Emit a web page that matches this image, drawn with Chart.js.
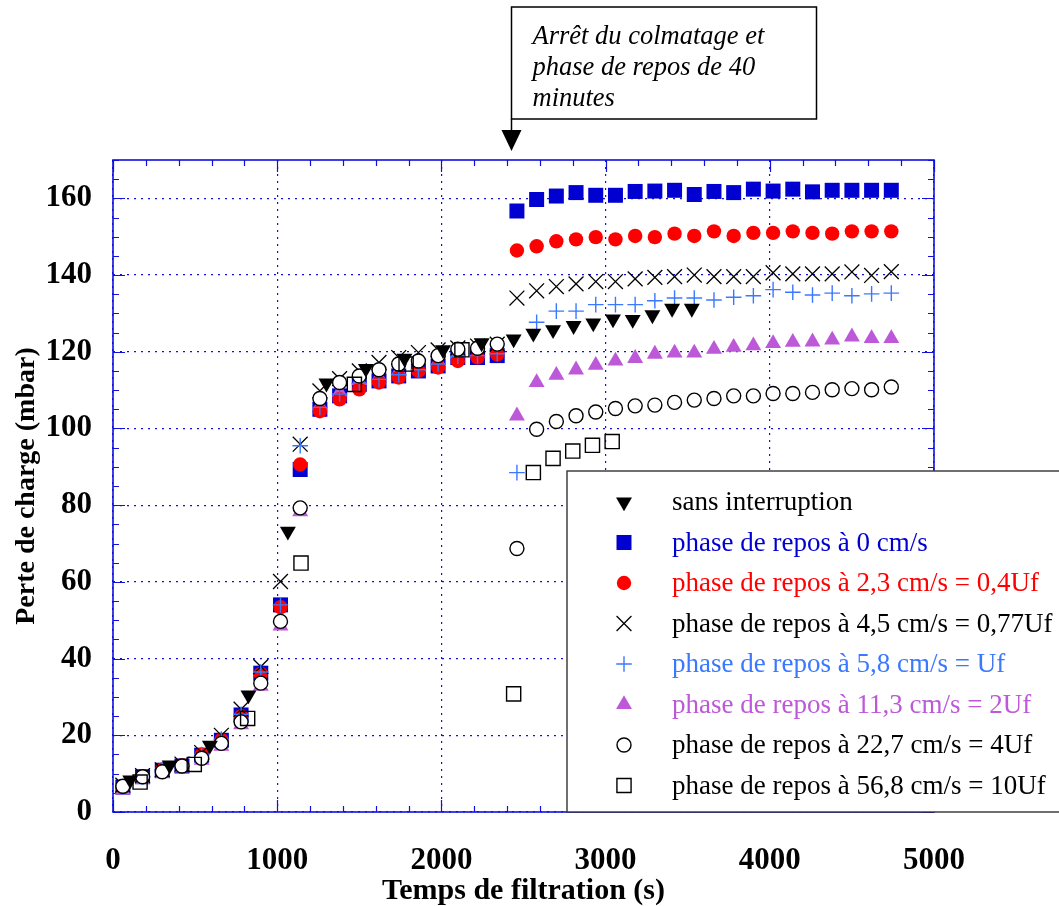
<!DOCTYPE html>
<html>
<head>
<title>Perte de charge</title>
<script src="https://cdn.jsdelivr.net/npm/chart.js"></script>
<style>
  html, body { margin: 0; padding: 0; background: #fff; }
</style>
</head>
<body>
<canvas id="chart" width="1059" height="906"></canvas>
<script>
// temps de filtration communs (s)
const tMain = [60, 180, 300, 420, 540, 660, 780, 900, 1020, 1140, 1260, 1380, 1500, 1620, 1740, 1860, 1980, 2100, 2220, 2340,
               2460, 2580, 2700, 2820, 2940, 3060, 3180, 3300, 3420, 3540, 3660, 3780, 3900, 4020, 4140, 4260, 4380, 4500, 4620, 4740];

// sans interruption (temps propres)
const tSans = [105, 345, 590, 825, 1065, 1300, 1540, 1775, 2010, 2245, 2440, 2560, 2680, 2805, 2925, 3045, 3165, 3285, 3405, 3525];
const pSans = [8.3, 12.2, 17.4, 30.5, 73.2, 111.8, 115.6, 118.3, 120.5, 122.3, 123.3, 124.8, 125.7, 126.8, 127.5, 128.5, 128.4, 129.6, 131.3, 131.3];

const p0cms = [6.5, 9.2, 10.9, 12.0, 14.8, 18.7, 25.3, 36.2, 54.0, 89.3, 105.0, 108.5, 111.5, 112.4, 113.7, 115.0, 116.3, 118.5, 118.5, 119.0,
               156.7, 159.7, 160.6, 161.5, 160.8, 160.8, 161.8, 161.9, 162.1, 161.0, 161.8, 161.5, 162.4, 161.9, 162.4, 161.7, 162.1, 162.1, 162.1, 162.1];
const p23cms = [6.5, 9.3, 11.0, 12.2, 15.0, 18.8, 25.0, 36.0, 53.4, 90.6, 104.5, 107.6, 110.2, 112.0, 113.3, 115.0, 115.9, 117.6, 118.5, 119.3,
                146.4, 147.5, 148.8, 149.3, 149.9, 149.3, 150.2, 149.9, 150.8, 150.2, 151.4, 150.2, 151.0, 151.0, 151.4, 151.0, 150.8, 151.4, 151.4, 151.4];
const p45cms = [7.0, 9.5, 11.0, 12.5, 15.5, 20.0, 26.8, 37.9, 60.1, 95.9, 109.8, 113.0, 115.0, 117.2, 118.5, 119.8, 120.5, 121.0, 121.5, 122.0,
                134.0, 135.9, 137.0, 137.7, 138.3, 138.3, 139.0, 139.4, 139.6, 140.0, 139.6, 139.6, 139.6, 140.6, 140.3, 140.3, 140.3, 140.8, 139.9, 140.9];
const p58cms = [6.5, 9.2, 11.0, 12.0, 15.0, 19.0, 25.5, 36.5, 54.0, 95.5, 105.5, 109.0, 111.8, 112.8, 114.0, 115.3, 116.8, 118.8, 119.0, 119.5,
                88.5, 127.7, 130.6, 130.6, 132.3, 132.3, 132.3, 133.3, 134.0, 134.0, 133.5, 134.2, 134.6, 136.2, 135.5, 134.8, 135.3, 134.6, 135.1, 135.3];
const p113cms = [5.8, 8.5, 10.0, 11.5, 13.5, 17.2, 22.8, 32.8, 48.5, 78.3, 106.0, 109.5, 112.5, 113.5, 115.0, 116.0, 117.5, 119.5, 119.5, 120.5,
                 103.3, 112.0, 113.9, 115.3, 116.5, 117.6, 118.3, 119.4, 119.7, 119.7, 120.7, 121.2, 121.6, 122.2, 122.5, 122.6, 123.1, 123.9, 123.5, 123.5];
const p227cms = [6.7, 9.2, 10.5, 12.0, 14.0, 17.9, 23.5, 33.6, 49.7, 79.3, 107.8, 112.0, 113.7, 115.3, 116.8, 117.6, 119.0, 120.7, 120.9, 122.0,
                 68.7, 99.8, 101.8, 103.3, 104.3, 105.2, 105.9, 106.1, 106.8, 107.4, 107.8, 108.5, 108.5, 109.1, 109.1, 109.4, 110.1, 110.4, 110.1, 110.8];

// 56,8 cm/s (temps propres)
const tCarre = [165, 495, 820, 1145, 1470, 1785, 2125, 2440, 2560, 2680, 2800, 2920, 3040];
const p568cms = [7.8, 12.4, 24.4, 64.9, 111.5, 116.8, 120.5, 30.8, 88.5, 92.2, 94.1, 95.6, 96.6];

const labels = [
  'sans interruption',
  'phase de repos à 0 cm/s',
  'phase de repos à 2,3 cm/s = 0,4Uf',
  'phase de repos à 4,5 cm/s = 0,77Uf',
  'phase de repos à 5,8 cm/s = Uf',
  'phase de repos à 11,3 cm/s = 2Uf',
  'phase de repos à 22,7 cm/s = 4Uf',
  'phase de repos à 56,8 cm/s = 10Uf'
];
const annotationLines = ['Arrêt du colmatage et', 'phase de repos de 40', 'minutes'];
const tArret = 2425;

const SERIF = "'Liberation Serif', 'Times New Roman', serif";
const BLUE = '#0000d0', RED = '#ff0000', LBLUE = '#3a78ff', PURPLE = '#bd58d8', AXIS = '#1010e0';

const pts = (xs, ys) => xs.map((x, i) => ({ x: x, y: ys[i] }));

// styles des marqueurs (même ordre que labels)
const styles = [
  { pointStyle: 'triangle', rotation: 180, radius: 9.2, bg: '#000', border: '#000', bw: 0 },
  { pointStyle: 'rect', rotation: 0, radius: 10.6, bg: BLUE, border: BLUE, bw: 0 },
  { pointStyle: 'circle', rotation: 0, radius: 7.2, bg: RED, border: RED, bw: 0 },
  { pointStyle: 'crossRot', rotation: 0, radius: 10.5, bg: '#000', border: '#000', bw: 1.3 },
  { pointStyle: 'cross', rotation: 0, radius: 7.8, bg: LBLUE, border: LBLUE, bw: 1.4 },
  { pointStyle: 'triangle', rotation: 0, radius: 9.2, bg: PURPLE, border: PURPLE, bw: 0 },
  { pointStyle: 'circle', rotation: 0, radius: 7, bg: '#fff', border: '#000', bw: 1.4 },
  { pointStyle: 'rect', rotation: 0, radius: 10, bg: 'rgba(0,0,0,0)', border: '#000', bw: 1.4 }
];
const series = [pts(tSans, pSans), pts(tMain, p0cms), pts(tMain, p23cms), pts(tMain, p45cms),
                pts(tMain, p58cms), pts(tMain, p113cms), pts(tMain, p227cms), pts(tCarre, p568cms)];
const drawOrder = [0, 7, 5, 4, 3, 6, 2, 1]; // plus petit = dessus

const datasets = series.map((d, i) => ({
  label: labels[i],
  data: d,
  order: drawOrder[i],
  pointStyle: styles[i].pointStyle,
  rotation: styles[i].rotation,
  pointRadius: styles[i].radius,
  pointHoverRadius: styles[i].radius,
  backgroundColor: styles[i].bg,
  borderColor: styles[i].border,
  pointBorderWidth: styles[i].bw,
  borderWidth: styles[i].bw
}));

const legendColors = ['#000', BLUE, RED, '#000', LBLUE, PURPLE, '#000', '#000'];

function marker(ctx, s, x, y) {
  ctx.save();
  ctx.fillStyle = s.bg;
  ctx.strokeStyle = s.border;
  ctx.lineWidth = s.bw;
  Chart.helpers.drawPoint(ctx, { pointStyle: s.pointStyle, rotation: s.rotation, radius: s.radius, borderWidth: s.bw }, x, y);
  ctx.restore();
}

const cadre = {
  id: 'cadre',
  beforeDatasetsDraw(chart) {
    const { ctx, chartArea: a, scales: { x, y } } = chart;
    ctx.save();
    ctx.strokeStyle = AXIS;
    ctx.lineWidth = 1.2;
    ctx.beginPath();
    for (let v = 0; v <= 5000; v += 200) {
      const px = Math.round(x.getPixelForValue(v)) + 0.5;
      const len = v % 1000 === 0 ? 12 : 6;
      ctx.moveTo(px, a.bottom); ctx.lineTo(px, a.bottom - len);
      ctx.moveTo(px, a.top); ctx.lineTo(px, a.top + len);
    }
    for (let v = 0; v <= 170; v += 5) {
      const py = Math.round(y.getPixelForValue(v)) + 0.5;
      const len = v % 20 === 0 ? 12 : 6;
      ctx.moveTo(a.left, py); ctx.lineTo(a.left + len, py);
      ctx.moveTo(a.right, py); ctx.lineTo(a.right - len, py);
    }
    ctx.stroke();
    ctx.lineWidth = 1.6;
    ctx.strokeRect(a.left, a.top, a.right - a.left, a.bottom - a.top);
    ctx.restore();
  },
  afterDraw(chart) {
    const { ctx, chartArea: a, scales: { x } } = chart;
    ctx.save();
    // légende
    const lx = 567, ly = 471;
    ctx.fillStyle = '#fff';
    ctx.fillRect(lx, ly, 1059 - lx + 5, a.bottom - ly);
    ctx.strokeStyle = '#333';
    ctx.lineWidth = 1.4;
    ctx.strokeRect(lx, ly, 1059 - lx + 5, a.bottom - ly);
    ctx.font = '27px ' + SERIF;
    ctx.textBaseline = 'middle';
    ctx.textAlign = 'left';
    labels.forEach((lab, i) => {
      const ry = 502 + i * 40.5;
      marker(ctx, styles[i], 624, ry);
      ctx.fillStyle = legendColors[i];
      ctx.fillText(lab, 672, ry + 1);
    });
    // annotation
    const ax = Math.round(x.getPixelForValue(tArret)) + 0.5;
    ctx.fillStyle = '#fff';
    ctx.fillRect(ax, 7, 305, 112);
    ctx.strokeStyle = '#000';
    ctx.lineWidth = 1.5;
    ctx.strokeRect(ax, 7, 305, 112);
    ctx.fillStyle = '#000';
    ctx.font = 'italic 26.5px ' + SERIF;
    annotationLines.forEach((t, i) => ctx.fillText(t, ax + 21, 37 + i * 31));
    ctx.beginPath();
    ctx.moveTo(ax, 119); ctx.lineTo(ax, 132);
    ctx.stroke();
    ctx.beginPath();
    ctx.moveTo(ax - 10, 130); ctx.lineTo(ax + 10, 130); ctx.lineTo(ax, 151);
    ctx.closePath();
    ctx.fill();
    ctx.restore();
  }
};

const tickFont = { family: SERIF, size: 31, weight: 'bold' };

new Chart(document.getElementById('chart').getContext('2d'), {
  type: 'scatter',
  data: { datasets: datasets },
  options: {
    responsive: false,
    animation: false,
    events: [],
    layout: { padding: { left: 0, right: 125, top: 160, bottom: 0 } },
    plugins: { legend: { display: false }, tooltip: { enabled: false } },
    scales: {
      x: {
        type: 'linear', min: 0, max: 5000,
        afterFit: s => { s.height = 94; },
        ticks: { stepSize: 1000, padding: 30, color: '#000', font: tickFont, maxRotation: 0, callback: v => String(v) },
        grid: { color: AXIS, lineWidth: 1.2, drawTicks: false },
        border: { display: false, dash: [2, 5] },
        title: { display: true, text: 'Temps de filtration (s)', color: '#000', font: { family: SERIF, size: 30, weight: 'bold', lineHeight: 1.0 }, padding: { top: 0, bottom: 0 } }
      },
      y: {
        type: 'linear', min: 0, max: 170,
        afterFit: s => { s.width = 113; },
        afterBuildTicks: s => { s.ticks = s.ticks.filter(t => t.value % 20 === 0); },
        ticks: { stepSize: 20, padding: 21, color: '#000', font: tickFont },
        grid: { color: AXIS, lineWidth: 1.2, drawTicks: false },
        border: { display: false, dash: [2, 5] },
        title: { display: true, text: 'Perte de charge (mbar)', color: '#000', font: { family: SERIF, size: 28, weight: 'bold' }, padding: { top: 10, bottom: 0 } }
      }
    }
  },
  plugins: [cadre]
});
</script>
</body>
</html>
